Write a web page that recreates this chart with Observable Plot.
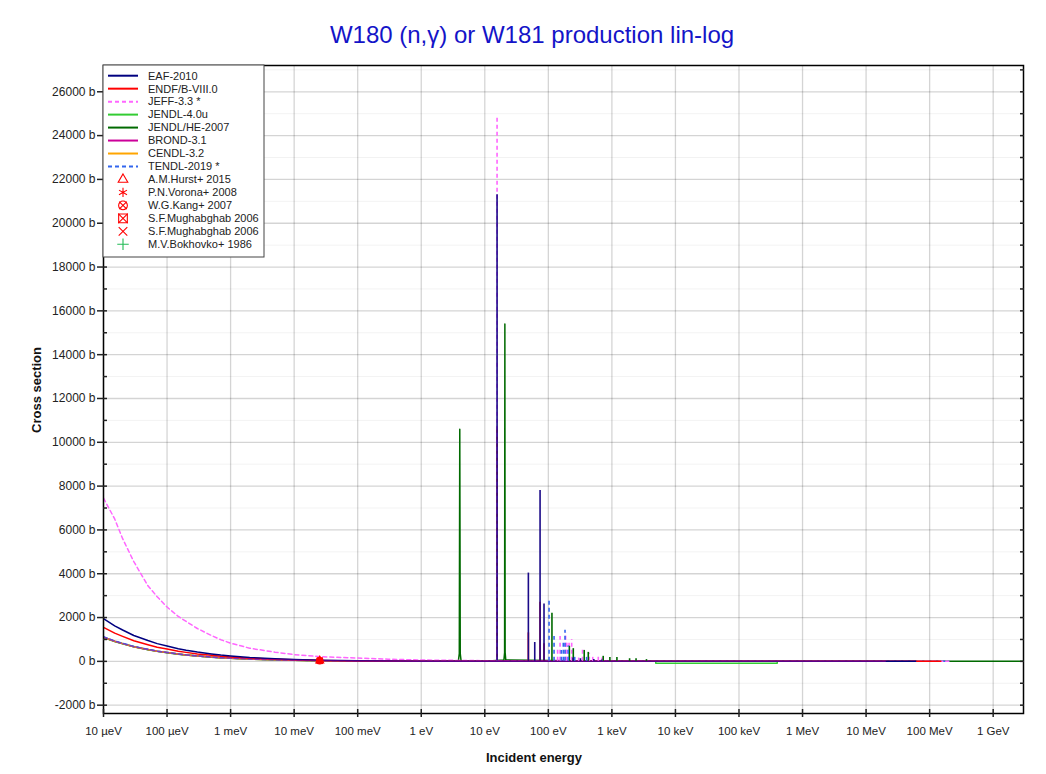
<!DOCTYPE html>
<html><head><meta charset="utf-8">
<script src="https://cdn.jsdelivr.net/npm/d3@7"></script>
<script src="https://cdn.jsdelivr.net/npm/@observablehq/plot@0.6"></script>
<style>
body{margin:0;background:#fff;font-family:"Liberation Sans",Arial,sans-serif}
#wrap{position:relative;width:1046px;height:774px;overflow:hidden}
#title{position:absolute;left:0;width:1064px;top:21px;line-height:28px;text-align:center;font-size:24px;color:#1414c8}
#chart{position:absolute;left:0;top:0}
</style></head><body><div id="wrap"><div id="chart"></div><div id="title">W180 (n,γ) or W181 production lin-log</div></div>
<script>
// ---------- data ----------
const libraries = ["EAF-2010","ENDF/B-VIII.0","JEFF-3.3 *","JENDL-4.0u","JENDL/HE-2007","BROND-3.1","CENDL-3.2","TENDL-2019 *"];
const measurements = ["A.M.Hurst+ 2015","P.N.Vorona+ 2008","W.G.Kang+ 2007","S.F.Mughabghab 2006","S.F.Mughabghab 2006","M.V.Bokhovko+ 1986"];

// smooth (1/v + background) parts, [energy eV, barns]
const eafSmooth = [[1e-5,1950],[1.5e-5,1620],[2e-5,1430],[3e-5,1180],[5e-5,950],[7e-5,810],[1e-4,700],[1.5e-4,580],[2e-4,510],[3e-4,425],[5e-4,340],[7e-4,290],[1e-3,250],[2e-3,180],[5e-3,120],[1e-2,90],[0.0253,55],[0.1,28],[1,10],[10,3],[1e3,1],[1e6,0.1],[6e7,0.001]];
const endfSmooth = [[1e-5,1550],[1.5e-5,1290],[2e-5,1140],[3e-5,940],[5e-5,760],[7e-5,645],[1e-4,560],[1.5e-4,465],[2e-4,410],[3e-4,340],[5e-4,275],[7e-4,232],[1e-3,200],[2e-3,145],[5e-3,95],[1e-2,70],[0.0253,45],[0.1,22],[1,8],[10,3],[1e3,1],[1e6,0.1],[1.5e8,0.001]];
const jeffSmooth = [[1e-5,7450],[1.5e-5,6500],[2e-5,5600],[3e-5,4550],[5e-5,3450],[7e-5,2950],[1e-4,2480],[1.5e-4,2050],[2e-4,1820],[3e-4,1500],[5e-4,1180],[7e-4,990],[1e-3,830],[2e-3,600],[5e-3,420],[1e-2,310],[0.0253,215],[0.1,150],[0.3,100],[1,60],[10,30],[1e3,1],[1e6,0.1],[2e8,0.001]];
const jendl40Smooth = [[1e-5,1100],[1.5e-5,915],[2e-5,810],[3e-5,670],[5e-5,540],[7e-5,460],[1e-4,400],[1.5e-4,332],[2e-4,290],[3e-4,242],[5e-4,195],[7e-4,165],[1e-3,145],[2e-3,105],[5e-3,70],[1e-2,52],[0.0253,33],[0.1,17],[1,6],[10,3],[4.9e3,1],[4.9e3,-90],[4e5,-90],[4e5,0.2],[2e7,0.001]];
const jendlHeSmooth = [[1e-5,1090],[1.5e-5,910],[2e-5,800],[3e-5,665],[5e-5,535],[7e-5,456],[1e-4,395],[1.5e-4,330],[2e-4,288],[3e-4,240],[5e-4,193],[7e-4,163],[1e-3,143],[2e-3,104],[5e-3,69],[1e-2,51],[0.0253,32],[0.1,17],[1,6],[3.85,40],[3.97,350],[4.04,10600],[4.11,350],[4.23,40],[10,3],[20.0,60],[20.5,400],[20.7,15400],[20.9,400],[21.4,60],[1e3,1],[1e6,0.1],[3e9,0.001]];
const brondSmooth = [[1e-5,1100],[1.5e-5,915],[2e-5,810],[3e-5,670],[5e-5,540],[7e-5,460],[1e-4,400],[1.5e-4,332],[2e-4,290],[3e-4,242],[5e-4,195],[7e-4,165],[1e-3,145],[2e-3,105],[5e-3,70],[1e-2,52],[0.0253,33],[0.1,17],[1,6],[10,3],[1e3,1],[1e6,0.1],[2e7,0.001]];
const cendlSmooth = [[1e-5,1100],[1.5e-5,915],[2e-5,810],[3e-5,670],[5e-5,540],[7e-5,460],[1e-4,400],[1.5e-4,332],[2e-4,290],[3e-4,242],[5e-4,195],[7e-4,165],[1e-3,145],[2e-3,105],[5e-3,70],[1e-2,52],[0.0253,33],[0.1,17],[1,6],[10,3],[1e3,1],[1e6,0.1],[2e7,0.001]];
const tendlSmooth = [[1e-5,1120],[1.5e-5,930],[2e-5,825],[3e-5,682],[5e-5,550],[7e-5,468],[1e-4,408],[1.5e-4,338],[2e-4,296],[3e-4,247],[5e-4,199],[7e-4,168],[1e-3,148],[2e-3,107],[5e-3,71],[1e-2,53],[0.0253,34],[0.1,17],[1,6],[10,3],[1e3,1],[1e6,0.1],[2e8,0.001]];

// resonance peaks, [energy eV, peak barns]
const eafPeaks = [[15.6,21300],[48.5,4030],[61.1,860],[74.1,7800],[85.5,2620],[245,150],[320,120],[520,80],[690,60]];
const endfPeaks = [[15.6,10700],[48.5,1300],[74.1,2700],[85.5,800]];
const jeffPeaks = [[15.6,24800],[140,600],[153,1140],[187,1300],[195,960],[212,900],[233,1000],[300,150],[345,530],[441,370],[500,200],[611,330],[700,150]];
const jendlHePeaks = [[114,2200],[214,690],[247,580],[367,500],[425,410],[730,230],[930,180],[1200,180],[1900,120],[2400,120],[3500,80]];
const tendlPeaks = [[102.6,2740],[123,1140],[160,500],[172,960],[183,1420],[205,700],[260,300],[400,200]];

// thermal measurements [energy eV, barns]
const hurst = [[0.0253,31]];
const vorona = [[0.0253,30]];
const kang = [[0.0253,29]];
const mugh1 = [[0.0253,30]];
const mugh2 = [[0.0253,31]];

const xTicks = [1e-5,1e-4,1e-3,1e-2,1e-1,1,10,100,1e3,1e4,1e5,1e6,1e7,1e8,1e9];
const xTickLabels = ["10 µeV","100 µeV","1 meV","10 meV","100 meV","1 eV","10 eV","100 eV","1 keV","10 keV","100 keV","1 MeV","10 MeV","100 MeV","1 GeV"];
const yTicks = [-2000,0,2000,4000,6000,8000,10000,12000,14000,16000,18000,20000,22000,24000,26000];
const yMinor = [-1000,1000,3000,5000,7000,9000,11000,13000,15000,17000,19000,21000,23000,25000,27000];

// ---------- styles ----------
const C = {eaf:"#000080", endf:"#ff0000", jeff:"#ff66ff", j40:"#33cc33", jhe:"#006a00", brond:"#cc0099", cendl:"#ffa500", tendl:"#3366ee"};
const libStyle = [
  {c:C.eaf}, {c:C.endf}, {c:C.jeff, dash:"4,3"}, {c:C.j40}, {c:C.jhe}, {c:C.brond}, {c:C.cendl}, {c:C.tendl, dash:"4,3"}
];
const font = "'Liberation Sans', Arial, sans-serif";
const xLabelOf = new Map(xTicks.map((t,i)=>[t, xTickLabels[i]]));

const line = (d, c, extra={}) => Plot.line(d, {x:d=>d[0], y:d=>d[1], stroke:c, strokeWidth:1.5, clip:true, ...extra});
const spikes = (d, c, extra={}) => Plot.ruleX(d, {x:d=>d[0], y1:0, y2:d=>d[1], stroke:c, strokeWidth:1.6, clip:true, ...extra});
const dots = (d, sym, c, r=2.8) => Plot.dot(d, {x:d=>d[0], y:d=>d[1], symbol:sym, r, stroke:c, strokeWidth:1.6, fill:"none"});

const chart = Plot.plot({
  width: 1046, height: 774,
  marginLeft: 103, marginRight: 23, marginTop: 65, marginBottom: 61,
  style: {fontFamily: font, background: "transparent", color: "#222"},
  x: {type: "log", domain: [1e-5, 3e9]},
  y: {domain: [-2380, 27200]},
  marks: [
    Plot.gridY(yMinor, {stroke:"#000", strokeOpacity:0.05, strokeWidth:1}),
    Plot.gridY(yTicks, {stroke:"#000", strokeOpacity:0.17, strokeWidth:1.3}),
    Plot.gridX(xTicks, {stroke:"#000", strokeOpacity:0.17, strokeWidth:1.3}),
    line(jendlHeSmooth, C.jhe),
    line(jendl40Smooth, C.j40),
    line(cendlSmooth, C.cendl),
    line(tendlSmooth, C.tendl, {strokeDasharray:"4,3"}),
    line(jeffSmooth, C.jeff, {strokeDasharray:"4,3"}),
    line(endfSmooth, C.endf),
    line(eafSmooth, C.eaf),
    line(brondSmooth, C.brond, {strokeOpacity:0.45}),
    spikes(endfPeaks, C.endf),
    spikes(jeffPeaks, C.jeff, {strokeDasharray:"4,3"}),
    spikes(jendlHePeaks, C.jhe),
    spikes(tendlPeaks, C.tendl, {strokeDasharray:"4,3"}),
    spikes(eafPeaks, "#1a0a88"),
    dots(kang, "circle", "#ff0000", 3),
    dots(mugh1, "square", "#ff0000", 2.6),
    dots(hurst, "triangle", "#ff0000", 2.6),
    dots(vorona, "asterisk", "#ff0000"),
    dots(mugh2, "times", "#ff0000"),
    Plot.frame({stroke:"#000", strokeWidth:1.5}),
    Plot.axisX(xTicks, {tickSize:4, tickPadding:9, fontSize:11.5, tickFormat:d=>xLabelOf.get(d), label:null, strokeWidth:1.5}),
    Plot.axisX(xTicks, {tickSize:-4, tickFormat:()=>"", label:null, strokeWidth:1.5}),
    Plot.axisY(yTicks, {tickSize:6, tickPadding:2, fontSize:12, tickFormat:d=>`${d} b`, label:null, strokeWidth:1.5}),
    Plot.axisY(yTicks, {tickSize:-4, tickFormat:()=>"", label:null, strokeWidth:1.5}),
    Plot.axisY(yMinor, {tickSize:-4, tickFormat:()=>"", label:null, strokeWidth:1.5}),
    Plot.axisY(yTicks.concat(yMinor), {anchor:"right", tickSize:-4, tickFormat:()=>"", label:null, strokeWidth:1.5})
  ]
});
document.getElementById("chart").appendChild(chart);

// ---------- axis titles & legend ----------
const svg = d3.select(chart);
svg.append("text").attr("x",534).attr("y",762).attr("text-anchor","middle")
  .attr("font-family",font).attr("font-size",13).attr("font-weight","bold").attr("fill","#111").text("Incident energy");
svg.append("text").attr("transform","translate(41,390) rotate(-90)").attr("text-anchor","middle")
  .attr("font-family",font).attr("font-size",13).attr("font-weight","bold").attr("fill","#111").text("Cross section");

const lg = svg.append("g").attr("font-family",font).attr("font-size",11).attr("fill","#222").attr("text-anchor","start");
lg.append("rect").attr("x",103).attr("y",65).attr("width",161).attr("height",192).attr("fill","#fff").attr("stroke","#444").attr("stroke-width",1);
const row0 = 75.7, dy = 12.97;
libraries.forEach((name,i)=>{
  const y = row0 + i*dy;
  lg.append("line").attr("x1",108).attr("x2",138).attr("y1",y).attr("y2",y)
    .attr("stroke",libStyle[i].c).attr("stroke-width",2).attr("stroke-dasharray",libStyle[i].dash||null);
  lg.append("text").attr("x",148).attr("y",y).attr("dy","0.35em").attr("text-anchor","start").text(name);
});
const symSets = [
  [[d3.symbolTriangle,40]],
  [[d3.symbolAsterisk,60]],
  [[d3.symbolCircle,60],[d3.symbolTimes,40]],
  [[d3.symbolSquare,75],[d3.symbolTimes,60]],
  [[d3.symbolTimes,50]],
  [[d3.symbolPlus,45]]
];
measurements.forEach((name,j)=>{
  const y = row0 + (libraries.length+j)*dy;
  const col = j===5 ? "#22bb55" : "#ff0000";
  symSets[j].forEach(([s,size])=>{
    lg.append("path").attr("d",d3.symbol(s,size)()).attr("transform",`translate(123,${y})`)
      .attr("fill","none").attr("stroke",col).attr("stroke-width",1.1);
  });
  lg.append("text").attr("x",148).attr("y",y).attr("dy","0.35em").attr("text-anchor","start").text(name);
});
</script></body></html>
